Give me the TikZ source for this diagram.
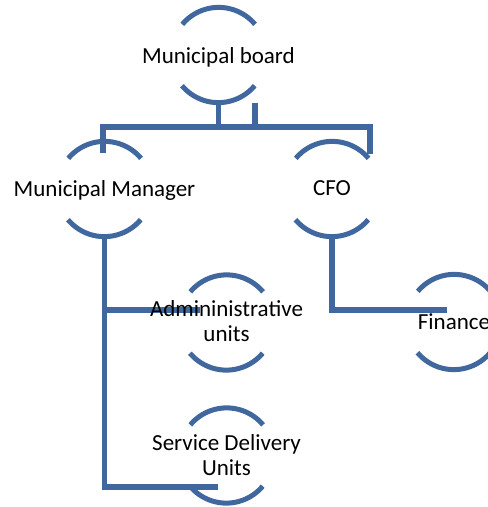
\documentclass[tikz,border=0pt]{standalone}
\usepackage{fontspec}
\setmainfont{Carlito}
\begin{document}
\begin{tikzpicture}[x=1pt,y=1pt,
  conn/.style={draw=lineblue,line width=5.5pt},
  ring/.style={circle,draw=none,minimum size=95pt,inner sep=0pt},
  arcs/.style={draw=lineblue,line width=5pt},
  lbl/.style={font=\fontsize{23pt}{25pt}\selectfont,inner sep=0pt,anchor=base,align=center,text=black}]
\definecolor{lineblue}{RGB}{64,104,158}
\useasboundingbox (0,0) rectangle (488,-507);
% circle centres
\node[ring] (mb)  at (218.5,-55) {};
\node[ring] (mm)  at (104.5,-189) {};
\node[ring] (cfo) at (332,-189) {};
\node[ring] (adm) at (226.5,-322.5) {};
\node[ring] (sd)  at (226.5,-455.5) {};
\node[ring] (fin) at (454,-322) {};
% connector points
\coordinate (bary)  at (0,-127);
\coordinate (stub)  at (255,-103);
\coordinate (mmin)  at (103,-153);
\coordinate (cfoin) at (370,-154);
\coordinate (adin)  at (200,-310);
\coordinate (sdin)  at (218,-487);
\coordinate (finin) at (447,-310);
% connectors
\draw[conn] (mb.south) -- (mb.south |- bary) -| (mmin);
\draw[conn] (mb.south |- bary) -| (cfoin);
\draw[conn] (stub) -- (stub |- bary);
\draw[conn] (mm.south) |- (sdin);
\draw[conn] (mm.south |- adin) -- (adin);
\draw[conn] (cfo.south) |- (finin);
% arcs
\draw[arcs] (mb.40) arc[start angle=40,end angle=140,radius=47.5pt];
\draw[arcs] (mb.220) arc[start angle=220,end angle=320,radius=47.5pt];
\draw[arcs] (mm.40) arc[start angle=40,end angle=140,radius=47.5pt];
\draw[arcs] (mm.220) arc[start angle=220,end angle=320,radius=47.5pt];
\draw[arcs] (cfo.40) arc[start angle=40,end angle=140,radius=47.5pt];
\draw[arcs] (cfo.220) arc[start angle=220,end angle=320,radius=47.5pt];
\draw[arcs] (adm.40) arc[start angle=40,end angle=140,radius=47.5pt];
\draw[arcs] (adm.220) arc[start angle=220,end angle=320,radius=47.5pt];
\draw[arcs] (sd.40) arc[start angle=40,end angle=140,radius=47.5pt];
\draw[arcs] (sd.220) arc[start angle=220,end angle=320,radius=47.5pt];
\draw[arcs] (fin.40) arc[start angle=40,end angle=140,radius=47.5pt];
\draw[arcs] (fin.220) arc[start angle=220,end angle=320,radius=47.5pt];
% labels
\node[lbl] (mbt)  at (218.5,-63) {Municipal board};
\node[lbl] (mmt)  at (104.5,-196) {Municipal Manager};
\node[lbl] (cfot) at (332,-195) {CFO};
\node[lbl] (admt) at (226.5,-341.5) {Admininistrative\\units};
\node[lbl] (sdt)  at (226.5,-475) {Service Delivery\\Units};
\node[lbl] (fint) at (454,-329) {Finance};
\end{tikzpicture}
\end{document}
